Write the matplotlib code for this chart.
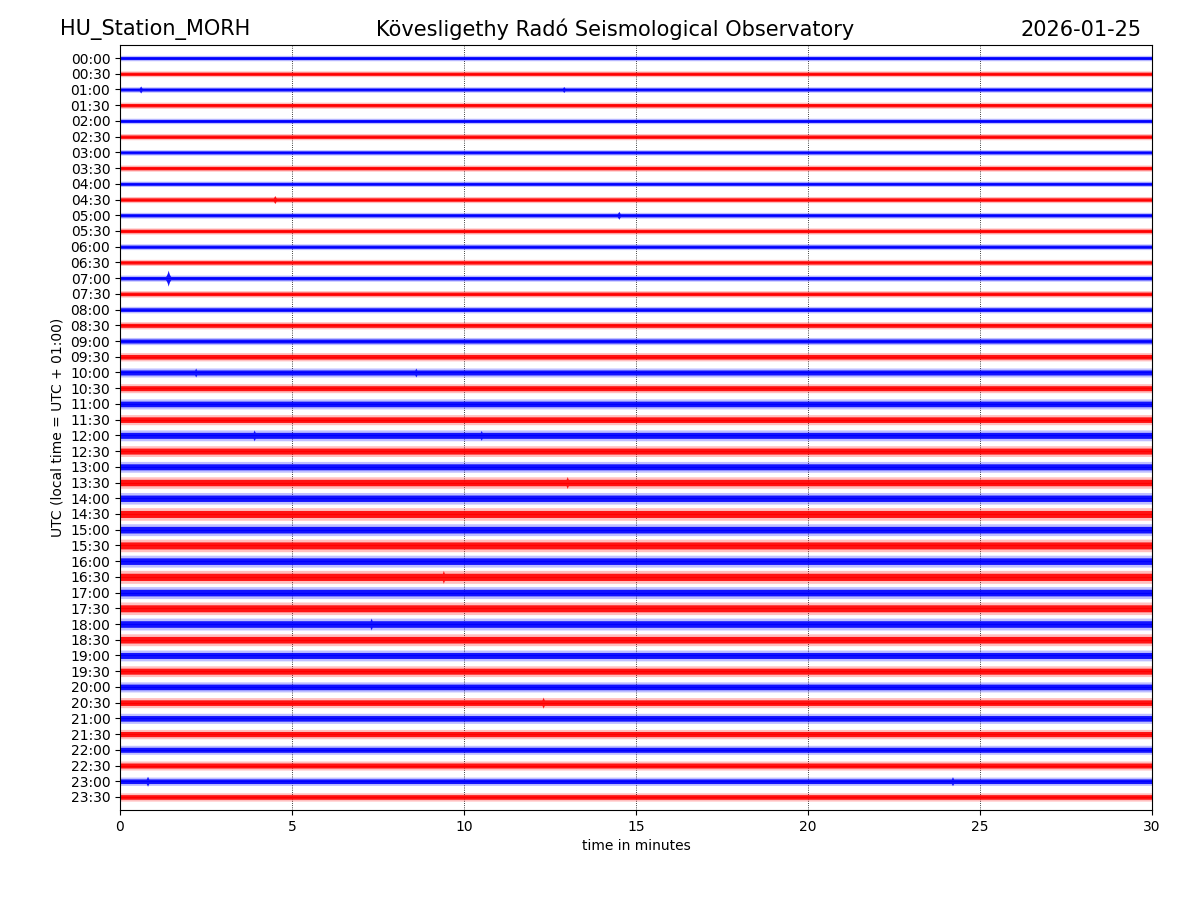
import numpy as np
import matplotlib
matplotlib.use("Agg")
import matplotlib.pyplot as plt

# ---- data ----
row_labels = [f"{h:02d}:{m:02d}" for h in range(24) for m in (0, 30)]
# typical half-amplitude of each trace, in pixels (row spacing ~15.7 px)
row_level_px = [1.5, 1.6, 1.5, 1.7, 1.5, 1.7, 1.5, 1.7, 1.5, 1.7, 1.6, 1.7,
                1.6, 1.7, 1.7, 1.8, 1.8, 2.0, 2.0, 2.3, 2.5, 2.5, 2.8, 2.8,
                3.0, 3.0, 3.0, 3.2, 3.2, 3.5, 3.3, 3.5, 3.3, 3.6, 3.3, 3.5,
                3.3, 3.3, 3.0, 3.0, 2.8, 2.8, 2.8, 2.6, 2.5, 2.5, 2.3, 2.3]
# notable bursts: row index, minute, half-amplitude in pixels
event_row = [2, 2, 9, 10, 14, 20, 20, 24, 24, 27, 33, 36, 41, 46, 46]
event_min = [0.6, 12.9, 4.5, 14.5, 1.4, 2.2, 8.6, 3.9, 10.5, 13.0, 9.4, 7.3, 12.3, 0.8, 24.2]
event_amp = [3.5, 3.0, 4.0, 4.0, 8.0, 4.5, 4.5, 5.5, 5.0, 6.0, 6.5, 6.0, 5.5, 5.0, 4.5]
colors = ["blue", "red"]
xticks = [0, 5, 10, 15, 20, 25, 30]

fig = plt.figure(figsize=(12, 9), dpi=100)
ax = fig.add_axes([0.1, 0.1, 0.86, 0.85])

row_px = 765 / 48.66  # pixels per row
x = np.linspace(0, 30, 3001)
for i, lvl in enumerate(row_level_px):
    env = np.full_like(x, lvl)
    for r, m, a in zip(event_row, event_min, event_amp):
        if r == i:
            env = np.maximum(env, a * np.exp(-np.abs(x - m) / 0.05))
    inner = env / row_px
    outer = np.maximum(env, 1.8 * lvl) / row_px
    c = colors[i % 2]
    ax.fill_between(x, i - outer, i + outer, color=c, alpha=0.25, lw=0)
    ax.fill_between(x, i - inner, i + inner, color=c, alpha=0.9, lw=0)
    ax.plot([0, 30], [i, i], color=c, lw=0.8)

ax.set_xlim(0, 30)
ax.set_ylim(47.83, -0.83)
ax.set_yticks(range(48))
ax.set_yticklabels(row_labels)
ax.set_xticks(xticks)
ax.grid(axis="x", linestyle=":", color="k", lw=0.6)
ax.set_axisbelow(True)
ax.set_xlabel("time in minutes")
ax.set_ylabel("UTC (local time = UTC + 01:00)")

fig.text(0.05, 0.967, "HU_Station_MORH", fontsize=15, ha="left", va="center")
fig.text(0.5125, 0.967, "Kövesligethy Radó Seismological Observatory", fontsize=15,
         ha="center", va="center")
fig.text(0.951, 0.967, "2026-01-25", fontsize=15, ha="right", va="center")

fig.savefig("out.png", dpi=100)
